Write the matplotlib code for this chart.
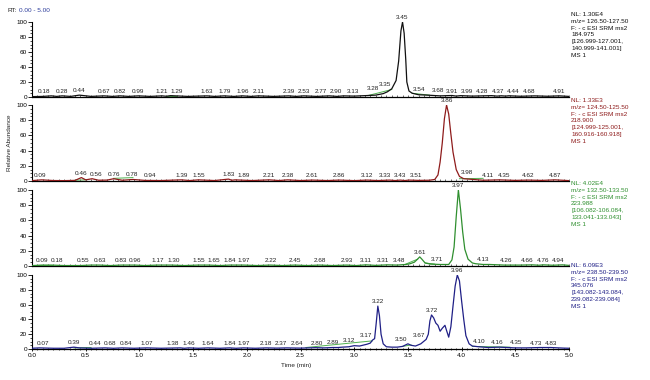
import numpy as np
import matplotlib
matplotlib.use("Agg")
import matplotlib.pyplot as plt
from matplotlib.ticker import MultipleLocator

plt.rcParams['font.family'] = ['Liberation Sans', 'DejaVu Sans']

# ---------------- data ----------------
t1 = [0.0, 0.1, 0.18, 0.23, 0.28, 0.36, 0.44, 0.55, 0.67, 0.75, 0.82, 0.9, 0.99, 1.1, 1.21, 1.25,
      1.29, 1.45, 1.63, 1.7, 1.79, 1.88, 1.96, 2.04, 2.11, 2.25, 2.39, 2.46, 2.53, 2.65, 2.77, 2.84,
      2.90, 3.0, 3.13, 3.2, 3.27, 3.31, 3.35, 3.39, 3.414, 3.435, 3.45, 3.465, 3.48, 3.49, 3.51,
      3.54, 3.6, 3.68, 3.8, 3.91, 3.95, 3.99, 4.1, 4.28, 4.33, 4.37, 4.41, 4.44, 4.55, 4.68, 4.8,
      4.91, 5.0]
v1 = [0.5, 0.8, 1.5, 0.8, 1.5, 0.8, 2.5, 0.8, 1.5, 0.8, 1.5, 0.8, 1.5, 0.8, 1.5, 1.0,
      1.8, 0.8, 1.5, 0.8, 1.5, 0.8, 1.5, 0.8, 1.5, 0.8, 1.5, 0.8, 1.5, 0.8, 1.5, 0.8,
      1.5, 1.2, 2.0, 2.5, 4.5, 7, 11, 22, 48, 88, 100, 85, 50, 20, 8,
      5, 3, 2.5, 1.5, 2, 1.2, 1.8, 1.2, 1.8, 1.2, 1.6, 1.2, 1.6, 1.0, 1.5, 1.0,
      1.5, 0.8]
lab1 = [0.18, 0.28, 0.44, 0.67, 0.82, 0.99, 1.21, 1.29, 1.63, 1.79, 1.96, 2.11, 2.39, 2.53, 2.77,
        2.90, 3.13, 3.28, 3.35, 3.45, 3.54, 3.68, 3.91, 3.99, 4.28, 4.37, 4.44, 4.68, 4.91]

t2 = [0.0, 0.09, 0.2, 0.3, 0.4, 0.46, 0.5, 0.56, 0.62, 0.7, 0.76, 0.78, 0.84, 0.94, 1.05, 1.2,
      1.39, 1.47, 1.55, 1.7, 1.83, 1.86, 1.89, 2.05, 2.21, 2.3, 2.38, 2.5, 2.61, 2.75, 2.86, 3.0,
      3.12, 3.22, 3.33, 3.38, 3.43, 3.47, 3.51, 3.6, 3.7, 3.75, 3.78, 3.80, 3.82, 3.84, 3.86, 3.88,
      3.90, 3.92, 3.95, 3.98, 4.02, 4.11, 4.2, 4.35, 4.5, 4.62, 4.75, 4.87, 5.0]
v2 = [0.5, 1.5, 0.6, 0.5, 0.8, 4.5, 1.5, 3.0, 1.0, 1.2, 3.0, 2.5, 1.0, 2.0, 0.8, 0.6,
      1.5, 0.6, 1.5, 0.6, 2.5, 1.0, 1.5, 0.6, 1.5, 0.6, 1.5, 0.6, 1.2, 0.6, 1.2, 0.5,
      1.2, 0.6, 1.2, 0.6, 1.2, 0.6, 1.2, 0.8, 1.0, 2.0, 8, 25, 50, 82, 100, 88,
      62, 38, 15, 6, 3, 2, 1, 1.5, 0.8, 1.2, 0.8, 1.5, 0.5]
lab2 = [0.09, 0.46, 0.56, 0.76, 0.78, 0.94, 1.39, 1.55, 1.83, 1.89, 2.21, 2.38, 2.61, 2.86, 3.12,
        3.33, 3.43, 3.51, 3.86, 3.98, 4.11, 4.35, 4.62, 4.87]

t3 = [0.0, 0.09, 0.18, 0.3, 0.45, 0.55, 0.63, 0.73, 0.83, 0.96, 1.05, 1.17, 1.30, 1.42, 1.55,
      1.65, 1.75, 1.84, 1.97, 2.1, 2.22, 2.33, 2.45, 2.56, 2.68, 2.8, 2.93, 3.02, 3.11, 3.2, 3.31,
      3.4, 3.48, 3.52, 3.56, 3.59, 3.61, 3.63, 3.66, 3.71, 3.8, 3.88, 3.91, 3.93, 3.95, 3.97, 3.99,
      4.01, 4.03, 4.06, 4.10, 4.13, 4.2, 4.26, 4.4, 4.55, 4.66, 4.72, 4.76, 4.85, 4.94, 5.0]
v3 = [0.5, 1.2, 1.2, 0.6, 0.6, 1.2, 1.2, 0.6, 1.2, 1.2, 0.6, 1.2, 1.2, 0.6, 1.2,
      1.2, 0.6, 1.2, 1.2, 0.6, 1.2, 0.6, 1.2, 0.6, 1.2, 0.6, 1.2, 0.6, 1.5, 0.8, 1.5,
      1.2, 2.0, 3.0, 5.0, 9.0, 12, 9, 4, 2.5, 2.0, 2.0, 8, 25, 65, 100, 75,
      45, 22, 9, 4, 3, 2, 2, 1.2, 1.2, 1.5, 1.0, 1.5, 1.0, 1.5, 0.8]
lab3 = [0.09, 0.18, 0.55, 0.63, 0.83, 0.96, 1.17, 1.30, 1.55, 1.65, 1.84, 1.97, 2.22, 2.45, 2.68,
        2.93, 3.11, 3.31, 3.48, 3.61, 3.71, 3.97, 4.13, 4.26, 4.66, 4.76, 4.94]

t4 = [0.0, 0.07, 0.2, 0.3, 0.39, 0.44, 0.55, 0.68, 0.76, 0.84, 0.95, 1.07, 1.2, 1.38, 1.42, 1.46,
      1.55, 1.64, 1.75, 1.84, 1.9, 1.97, 2.08, 2.18, 2.28, 2.37, 2.5, 2.64, 2.72, 2.80, 2.85, 2.89,
      2.95, 3.0, 3.05, 3.12, 3.15, 3.17, 3.19, 3.205, 3.22, 3.235, 3.25, 3.27, 3.3, 3.35, 3.4, 3.45,
      3.50, 3.53, 3.57, 3.62, 3.67, 3.69, 3.705, 3.72, 3.74, 3.76, 3.78, 3.80, 3.82, 3.845, 3.86,
      3.88, 3.90, 3.92, 3.94, 3.96, 3.98, 4.00, 4.02, 4.04, 4.07, 4.10, 4.16, 4.25, 4.35, 4.5, 4.6,
      4.73, 4.83, 4.95, 5.0]
v4 = [1.0, 1.5, 1.0, 1.0, 2.5, 1.5, 1.0, 1.5, 1.0, 1.5, 1.0, 1.5, 1.0, 1.5, 1.0, 1.5,
      1.0, 1.5, 1.0, 1.5, 1.0, 1.5, 1.0, 1.5, 1.2, 1.5, 1.2, 1.8, 1.5, 2.0, 2.0, 2.5,
      3.0, 4.5, 4.0, 6.5, 8, 12, 14, 35, 58, 45, 20, 7, 3, 2.5, 2.5, 3.5,
      7, 5, 4, 7, 13, 20, 38, 46, 42, 35, 32, 24, 28, 32, 25,
      16, 30, 58, 85, 100, 92, 65, 40, 18, 7, 4, 3, 2, 2.5, 1.5, 1.5,
      2.0, 2.0, 1.2, 1.0]
lab4 = [0.07, 0.39, 0.44, 0.68, 0.84, 1.07, 1.38, 1.46, 1.64, 1.84, 1.97, 2.18, 2.37, 2.64, 2.80,
        2.89, 3.12, 3.17, 3.22, 3.50, 3.67, 3.72, 3.96, 4.10, 4.16, 4.35, 4.73, 4.83]

# integration baselines (green): start time, start value, end time, end value
base1 = [(3.13, 2.0, 3.35, 10.0), (3.54, 5.0, 3.70, 2.5), (1.25, 1.5, 1.35, 1.5)]
base2 = [(0.76, 3.5, 0.94, 4.5), (0.40, 1.0, 0.50, 1.5), (3.98, 3.0, 4.20, 3.5)]
base3 = [(3.48, 2.5, 3.59, 9.0), (3.66, 4.0, 3.75, 2.5), (0.0, 1.0, 0.2, 1.0)]
base4 = [(2.55, 2.0, 3.17, 11.0), (0.39, 1.5, 0.55, 2.0), (4.10, 3.5, 4.45, 2.5), (3.45, 3.5, 3.53, 5.5)]

info1 = ["NL: 1.30E4", "m/z= 126.50-127.50", "F: - c ESI SRM ms2", "184.975",
         "[126.999-127.001,", "140.999-141.001]", "MS 1"]
info2 = ["NL: 1.33E3", "m/z= 124.50-125.50", "F: - c ESI SRM ms2", "218.900",
         "[124.999-125.001,", "160.916-160.918]", "MS 1"]
info3 = ["NL: 4.02E4", "m/z= 132.50-133.50", "F: - c ESI SRM ms2", "223.988",
         "[106.082-106.084,", "133.041-133.043]", "MS 1"]
info4 = ["NL: 6.09E3", "m/z= 238.50-239.50", "F: - c ESI SRM ms2", "345.076",
         "[143.082-143.084,", "239.082-239.084]", "MS 1"]

x_ticks = [0.0, 0.5, 1.0, 1.5, 2.0, 2.5, 3.0, 3.5, 4.0, 4.5, 5.0]
y_ticks = [0, 20, 40, 60, 80, 100]

# label shifts (minutes) so that crowded labels sit where the instrument software put them
shift1 = {0.18: -0.07, 1.29: 0.06, 2.77: -0.08, 2.90: -0.07, 3.13: -0.14, 3.28: -0.11,
          3.35: -0.06, 3.54: 0.06, 3.68: 0.10, 3.99: 0.06, 4.28: -0.09, 4.37: -0.03,
          4.44: 0.04, 4.68: -0.05}
shift2 = {0.09: -0.02, 0.56: 0.04, 0.78: 0.15, 0.94: 0.16, 1.89: 0.08, 3.33: -0.04,
          3.51: 0.07, 3.98: 0.07, 4.11: 0.13, 4.35: 0.05}
shift3 = {0.18: 0.05, 0.55: -0.07, 1.30: 0.02, 1.65: 0.04, 3.31: -0.04, 3.48: -0.06,
          3.71: 0.06, 4.13: 0.07, 4.26: 0.15, 4.66: -0.05, 4.94: -0.04}
shift4 = {0.07: 0.03, 0.44: 0.15, 0.68: 0.05, 0.84: 0.035, 1.38: -0.07, 2.37: -0.05,
          2.64: -0.17, 2.80: -0.15, 2.89: -0.09, 3.12: -0.17, 3.17: -0.06, 3.50: -0.06,
          3.67: -0.07, 4.10: 0.06, 4.16: 0.17, 4.35: 0.16, 4.73: -0.04}

panels = [
    (t1, v1, lab1, base1, info1, "#111111", shift1),
    (t2, v2, lab2, base2, info2, "#8e1b1b", shift2),
    (t3, v3, lab3, base3, info3, "#2f8f2f", shift3),
    (t4, v4, lab4, base4, info4, "#1f1f86", shift4),
]

# ---------------- figure ----------------
fig = plt.figure(figsize=(6.5, 3.8), dpi=100)
left, width = 32 / 650, 537 / 650
tops_px = [22, 105, 190, 275]
bots_px = [97, 181, 266, 349]
info_top_px = [12, 98, 181, 263]
fs = 4.6

for i, (t, v, labs, bases, info, col, shift) in enumerate(panels):
    b = 1 - bots_px[i] / 380
    h = (bots_px[i] - tops_px[i]) / 380
    ax = fig.add_axes([left, b, width, h])
    ax.plot(t, v, color=col, lw=0.9, zorder=3)
    for (ta, va, tb, vb) in bases:
        ax.plot([ta, tb], [va, vb], color="#4fb04f", lw=0.7, zorder=2)
    for lt in labs:
        yv = np.interp(lt, t, v)
        ax.annotate(f"{lt:.2f}", xy=(lt + shift.get(lt, 0.0), yv), xytext=(0, 1.2),
                    textcoords="offset points", ha="center", va="bottom",
                    fontsize=fs, color="#222222", annotation_clip=False, zorder=4)
    ax.set_xlim(0, 5)
    ax.set_ylim(0, 100)
    for s in ["top", "right"]:
        ax.spines[s].set_visible(False)
    ax.spines["left"].set_linewidth(0.8)
    ax.spines["bottom"].set_linewidth(0.9)
    ax.set_yticks(y_ticks)
    ax.set_yticklabels([str(y) for y in y_ticks])
    ax.yaxis.set_minor_locator(MultipleLocator(5))
    ax.tick_params(axis="y", which="major", length=3, width=0.6, labelsize=fs, pad=0.5)
    ax.tick_params(axis="y", which="minor", length=1.6, width=0.5)
    ax.set_xticks(x_ticks)
    ax.xaxis.set_minor_locator(MultipleLocator(0.05))
    if i == 3:
        ax.set_xticklabels([f"{x:.1f}" for x in x_ticks])
        ax.tick_params(axis="x", which="major", length=3, width=0.6, labelsize=fs,
                       direction="inout", pad=1.5)
        ax.tick_params(axis="x", which="minor", length=2, width=0.5, direction="inout")
    else:
        ax.tick_params(axis="x", which="both", labelbottom=False, length=1.2, width=0.4,
                       direction="in")
    ax.patch.set_alpha(0)
    fig.text(571 / 650, 1 - info_top_px[i] / 380, "\n".join(info), fontsize=fs,
             color=col, va="top", ha="left", linespacing=1.45)

fig.text(7 / 650, 1 - 10 / 380, "RT:", fontsize=fs, color="#222222", va="center", ha="left")
fig.text(19 / 650, 1 - 10 / 380, "0.00 - 5.00", fontsize=fs, color="#2a3a9a", va="center",
         ha="left")
fig.text(10 / 650, 1 - 143 / 380, "Relative Abundance", fontsize=fs, rotation=90,
         va="center", ha="center", color="#222222")
fig.text(296 / 650, 1 - 366 / 380, "Time (min)", fontsize=fs, va="center", ha="center",
         color="#222222")

fig.savefig("out.png", dpi=100, facecolor="white")
